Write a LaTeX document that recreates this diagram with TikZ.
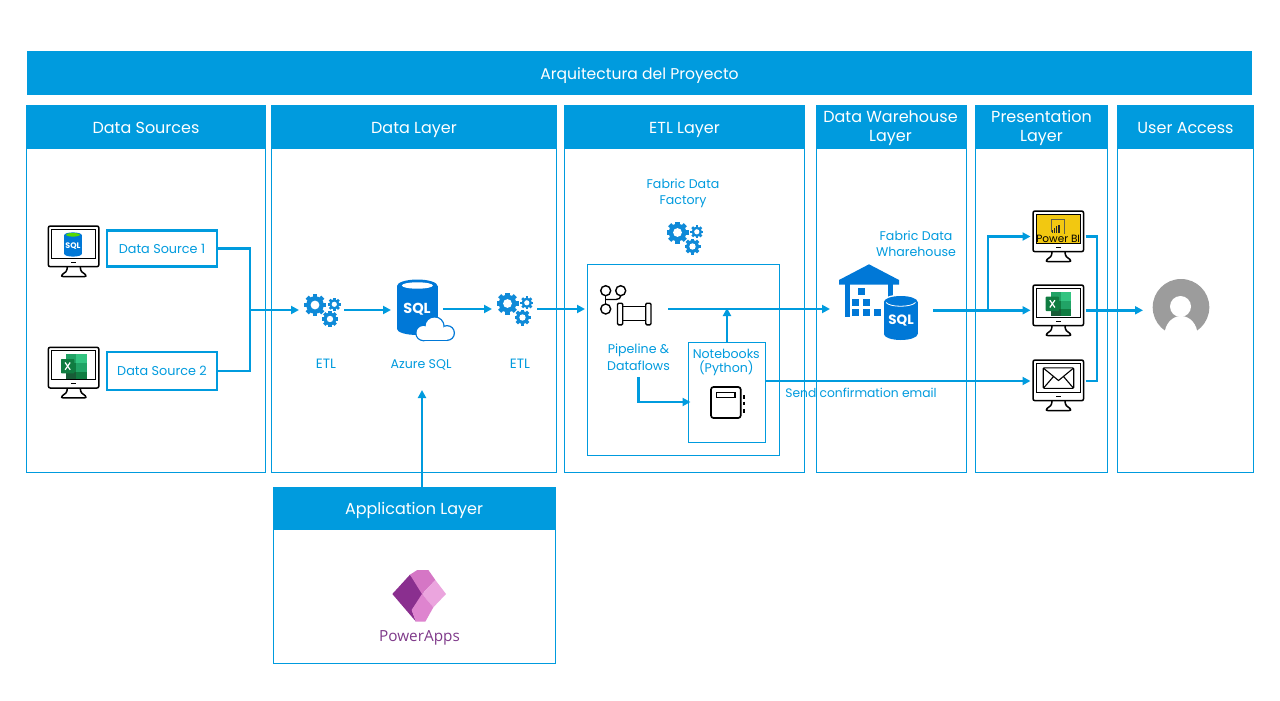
\documentclass[tikz,border=0pt]{standalone}
\usepackage{fontspec}
\setmainfont{Poppins}
\newfontfamily\appsfont{Open Sans}
\usetikzlibrary{arrows.meta}
\definecolor{mainblue}{HTML}{009BDE}
\definecolor{iconblue}{HTML}{0F8AD8}
\definecolor{sqlblue}{HTML}{0078D7}
\definecolor{xa}{HTML}{33C481}
\definecolor{xb}{HTML}{21A366}
\definecolor{xc}{HTML}{107C41}
\definecolor{xd}{HTML}{185C37}
\definecolor{paa}{HTML}{8A2F8F}
\definecolor{pab}{HTML}{D576C5}
\definecolor{pac}{HTML}{EBA5DE}
\definecolor{pad}{HTML}{DE84CF}
\definecolor{patext}{HTML}{7F3A8A}
\definecolor{pbiyellow}{HTML}{F2C811}
\newcommand\fs[1]{\fontsize{#1}{#1}\selectfont}
\newcommand\gearat[3]{%
  \foreach \a in {0,45,90,135}{\fill[iconblue,rotate around={\a:(#1,#2)}] ({#1-0.2*#3},{#2-#3}) rectangle ({#1+0.2*#3},{#2+#3});}
  \fill[iconblue] (#1,#2) circle[radius={0.8*#3*1pt}];
  \fill[white] (#1,#2) circle[radius={0.4*#3*1pt}];}
\tikzset{
  headbar/.style={anchor=north west,fill=mainblue,text=white,inner sep=0pt,outer sep=0pt,align=center,font=\fs{16}},
  headone/.style={headbar,text height=13pt,text depth=1pt},
  headtwo/.style={headbar,text height=32pt,text depth=0pt},
  panelbody/.style={anchor=north west,draw=mainblue,line width=.9pt,fill=white,inner sep=0pt,outer sep=0pt},
  label/.style={text=mainblue,align=center,inner sep=0pt,outer sep=0pt,font=\fs{12.6}},
  srcbox/.style={draw=mainblue,line width=2.4pt,fill=white,text=mainblue,inner sep=0pt,outer sep=0pt,minimum width=110pt,font=\fs{12.8}},
  iconbox/.style={inner sep=0pt,outer sep=0pt},
  flow/.style={draw=mainblue,line width=2.4pt,line join=miter},
  flowarrow/.style={flow,-{Triangle[length=8pt,width=8pt]}},
  monitorpic/.pic={
    \draw[black,line width=1.5pt,fill=white,line join=round] (19,41) .. controls (19,45) and (17,47) .. (14,48.5) .. controls (13,50) and (13,50.6) .. (15,50.6) -- (36,50.6) .. controls (38,50.6) and (38,50) .. (37,48.5) .. controls (34,47) and (32,45) .. (32,41);
    \draw[black,line width=1.5pt,fill=white,rounded corners=2pt] (0,0) rectangle (50.6,40.7);
    \draw[black,line width=1.3pt] (3.4,3.4) rectangle (47.2,32.3);
    \draw[black,line width=1.2pt] (23,36.5) -- (27.6,36.5);
  },
  excelpic/.pic={
    \fill[xb] (17.7,7) rectangle (28,15.6);
    \fill[xa] (28,7) rectangle (38.4,15.6);
    \fill[xc] (17.7,15.6) rectangle (28,24.2);
    \fill[xb] (28,15.6) rectangle (38.4,24.2);
    \fill[xd] (17.7,24.2) rectangle (38.4,31.2);
    \fill[xc] (28,24.2) rectangle (38.4,31.2);
    \fill[xc,rounded corners=.6pt] (12.7,11.7) rectangle (26,26);
    \draw[white,line width=1.2pt] (16.8,15.2) -- (21.9,22.5) (21.9,15.2) -- (16.8,22.5);
  },
  gearspic/.pic={
    \gearat{-7.5}{-5}{11}
    \gearat{11.8}{-5.7}{6.5}
    \gearat{7.5}{9}{8}
  }
}
\begin{document}
\begin{tikzpicture}[x=1pt,y=-1pt]
\useasboundingbox (0,0) rectangle (1280,701);
\fill[white] (0,0) rectangle (1280,701);

% title
\node[headone,font=\fs{15.6},minimum width=1225pt,minimum height=44pt] (title) at (27,51) {Arquitectura del Proyecto};

% panels
\node[panelbody,minimum width=239pt,minimum height=367pt] (srcbody) at (26,105) {};
\node[headone,minimum width=240pt,minimum height=44pt] (srchead) at (26,105) {Data Sources};
\node[panelbody,minimum width=285pt,minimum height=367pt] (databody) at (271.5,105) {};
\node[headone,minimum width=286pt,minimum height=44pt] (datahead) at (271,105) {Data Layer};
\node[panelbody,minimum width=240pt,minimum height=367pt] (etlbody) at (564.5,105) {};
\node[headone,minimum width=241pt,minimum height=44pt] (etlhead) at (564,105) {ETL Layer};
\node[panelbody,minimum width=150pt,minimum height=367pt] (dwbody) at (816,105) {};
\node[headbar,minimum width=151pt,minimum height=44pt] (dwhead) at (815.5,105) {};
\node[text=white,align=center,inner sep=0pt,font=\fs{16}] (dwheadtext) at (890.5,127.8) {Data Warehouse\\[3pt]Layer};
\node[panelbody,minimum width=132pt,minimum height=367pt] (presbody) at (975.5,105) {};
\node[headbar,minimum width=133pt,minimum height=44pt] (preshead) at (975,105) {};
\node[text=white,align=center,inner sep=0pt,font=\fs{16}] (presheadtext) at (1041.5,127.8) {Presentation\\[3pt]Layer};
\node[panelbody,minimum width=136pt,minimum height=367pt] (userbody) at (1117.5,105) {};
\node[headone,minimum width=137pt,minimum height=44pt] (userhead) at (1117,105) {User Access};
\node[panelbody,minimum width=282pt,minimum height=176pt] (appbody) at (273,487) {};
\node[headone,minimum width=283pt,minimum height=43pt] (apphead) at (272.5,487) {Application Layer};

% inner boxes
\node[panelbody,minimum width=192pt,minimum height=191pt] (factorybox) at (587,264) {};
\node[panelbody,minimum width=77pt,minimum height=100pt] (nb) at (688.5,342) {};

% data sources
\node[srcbox,minimum height=36pt] (ds1) at (162,248.5) {Data Source 1};
\node[srcbox,minimum height=38pt] (ds2) at (162,371) {Data Source 2};
\pic at (48.3,226) {monitorpic};
\fill[sqlblue] (64.3,235) rectangle (81.7,254);
\fill[sqlblue] (73,254) ellipse[x radius=8.7pt,y radius=2.6pt];
\fill[sqlblue] (73,235) ellipse[x radius=8.7pt,y radius=2.6pt];
\fill[green!60!yellow!85!black] (73,234.8) ellipse[x radius=6.8pt,y radius=1.8pt];
\node[text=white,inner sep=0pt,font=\fs{8}\bfseries] (sqlmini) at (73,246) {SQL};
\pic at (48.3,347.3) {monitorpic};
\pic at (48.3,347.3) {excelpic};

% ETL / SQL icons
\node[iconbox,minimum width=45pt,minimum height=34pt] (etl1) at (321.5,310) {};
\pic at (322.5,310) {gearspic};
\node[iconbox,minimum width=52pt,minimum height=60pt] (azure) at (417,310) {};
\fill[sqlblue] (397,286) rectangle (437.6,329);
\fill[sqlblue] (417.3,329) ellipse[x radius=20.3pt,y radius=6pt];
\fill[sqlblue] (417.3,286) ellipse[x radius=20.3pt,y radius=6.5pt];
\fill[white] (417.3,285.5) ellipse[x radius=15.5pt,y radius=3.2pt];
\node[text=white,inner sep=0pt,font=\fs{14.5}\bfseries] (azuresqltext) at (417,309) {SQL};
\foreach \c/\d in {sqlblue/0,white/1.3}{
  \fill[\c] (423.5,333) circle[radius={(8.3-\d)*1pt}];
  \fill[\c] (434.5,326.5) circle[radius={(10.2-\d)*1pt}];
  \fill[\c] (447,333) circle[radius={(8-\d)*1pt}];
  \fill[\c] (423.5,330) rectangle (447,{341.3-\d});
}
\node[iconbox,minimum width=45pt,minimum height=34pt] (etl2) at (514.5,309) {};
\pic at (515,308.5) {gearspic};
\node[label,font=\fs{13.5}] (etl1lbl) at (326,364) {ETL};
\node[label] (azurelbl) at (421,364.5) {Azure SQL};
\node[label,font=\fs{13.5}] (etl2lbl) at (520,364) {ETL};

% factory
\node[label] (factorylbl) at (683,193) {Fabric Data\\[3.2pt]Factory};
\node[iconbox,minimum width=36pt,minimum height=33pt] (factorygear) at (685,237.5) {};
\pic at (685,237.5) {gearspic};

% pipeline icon
\node[iconbox,minimum width=83pt,minimum height=40pt] (pipeline) at (626.5,309) {};
\begin{scope}[black,line width=1.4pt]
\draw (605.7,295.7) -- (605.7,304);
\draw (620.7,295.7) .. controls (620.7,298) and (619,299.5) .. (616,299.5) -- (605.7,299.5);
\draw (605.7,290.7) circle[radius=5pt];
\draw (620.7,290.7) circle[radius=5pt];
\draw (605.7,309) circle[radius=5pt];
\draw (622.7,306.7) -- (645.7,306.7) (622.7,320.7) -- (645.7,320.7);
\draw[rounded corners=1.2pt,fill=white] (617.5,303.2) rectangle (622.7,324.8);
\draw[rounded corners=1.2pt,fill=white] (645.7,303.2) rectangle (651,324.8);
\end{scope}
\node[label,minimum height=40pt] (pipelbl) at (638.5,357.3) {Pipeline \&\\[3.2pt]Dataflows};

% notebook
\node[label] (nblbl) at (726.3,362.3) {Notebooks\\[1.2pt](Python)};
\node[iconbox,minimum width=35pt,minimum height=33pt] (nbicon) at (727,402) {};
\begin{scope}[black,line width=1.7pt]
\draw[rounded corners=2.5pt] (711,387) rectangle (740.7,418);
\draw[line width=1.3pt] (716.7,392.7) rectangle (735,397.3);
\draw (744,395) -- (744,398.5) (744,401.5) -- (744,405) (744,409) -- (744,412.5);
\end{scope}
\node[label,font=\fs{12.3}] (maillbl) at (861,393) {Send confirmation email};

% warehouse
\node[iconbox,minimum width=103pt,minimum height=78pt] (dw) at (881.5,303) {};
\fill[sqlblue] (869,264.3) -- (899,280) -- (899,284.5) -- (839,284.5) -- (839,280) -- cycle;
\fill[sqlblue] (845,284) rectangle (850,316.7);
\fill[sqlblue] (887.7,284) rectangle (893,298);
\foreach \p/\q in {861.7/291.7,855.7/302.3,866.7/302.3,855.7/312.3,866.7/312.3,877.3/312.3}{
  \fill[sqlblue] ({\p-3.6},{\q-3.6}) rectangle ({\p+3.6},{\q+3.6});}
\fill[white] (900.8,302) ellipse[x radius=18.5pt,y radius=7.5pt];
\fill[white] (882.5,302) rectangle (919.2,334);
\fill[sqlblue] (884,302) rectangle (917.7,334);
\fill[sqlblue] (900.8,334) ellipse[x radius=16.9pt,y radius=6pt];
\fill[sqlblue] (900.8,302) ellipse[x radius=16.9pt,y radius=6pt];
\draw[white,line width=.8pt] (886,302.5) .. controls (890,307.5) and (911,307.5) .. (915.5,302.5);
\node[text=white,inner sep=0pt,font=\fs{13.5}\bfseries] (dwsql) at (901,321) {SQL};
\node[label] (dwlbl) at (916,243.7) {Fabric Data\\[3.2pt]Wharehouse};

% presentation monitors
\node[iconbox,minimum width=55pt,minimum height=51pt] (mon1) at (1058,236.5) {};
\node[iconbox,minimum width=55pt,minimum height=51pt] (mon2) at (1058,310.3) {};
\node[iconbox,minimum width=55pt,minimum height=51pt] (mon3) at (1058,385.5) {};
\pic at (1033,211) {monitorpic};
\fill[pbiyellow,draw=black,line width=1.3pt] (1036.4,214.4) rectangle (1080.2,243.3);
\draw[black!70!yellow,line width=.6pt] (1051,231.5) -- (1051,219.5) -- (1064,219.5) -- (1064,233.5);
\foreach \i/\h in {0/3,1/5,2/7,3/8}{\fill[black!85] ({1052+\i*2.1},233.3) rectangle ({1053.2+\i*2.1},{233.3-\h});}
\node[text=black,inner sep=0pt,font=\fs{10.5}] (pbi) at (1058.2,239) {Power BI};
\pic at (1033,285) {monitorpic};
\pic at (1033,285) {excelpic};
\pic at (1033,360) {monitorpic};
\draw[black,line width=1.1pt,rounded corners=1pt] (1043.2,367.8) rectangle (1073.7,388.3);
\draw[black,line width=1.1pt] (1043.6,368.3) -- (1058.5,380.5) -- (1073.3,368.3) (1043.6,388) -- (1053.5,376.5) (1073.3,388) -- (1063.5,376.5);

% user
\node[iconbox,minimum width=76pt,minimum height=57pt] (user) at (1181,307.5) {};
\fill[black!39] (1181,307.3) circle[radius=28.3pt];
\fill[white] (1181,335) ellipse[x radius=16.5pt,y radius=19pt];
\fill[white] (1164.5,335) rectangle (1197.5,340);
\fill[white] (1180.5,306.5) circle[radius=10.5pt];

% powerapps
\node[iconbox,minimum width=54pt,minimum height=53pt] (palogo) at (419,595) {};
\begin{scope}[shift={(360,560)},x=.3333pt,y=-.3333pt,line join=round]
\fill[paa] (97,102) -- (150,44) -- (195,100) -- (155,150) -- (168,185) -- cycle;
\fill[pab] (150,44) -- (172,30) -- (205,30) -- (226,60) -- (186,102) -- cycle;
\fill[pac] (226,60) -- (258,102) -- (220,142) -- (186,102) -- cycle;
\fill[pad] (186,102) -- (220,142) -- (196,185) -- (168,185) -- (155,150) -- cycle;
\end{scope}
\node[inner sep=0pt,text=patext,font=\appsfont\fs{15.3}] (palbl) at (419.5,638) {PowerApps};

% connectors
\coordinate (merge) at (250,310);
\coordinate (branch) at (988,310.3);
\coordinate (nbout) at (766,381);
\coordinate (nbin) at (690.5,402);
\coordinate (bracket) at (1097,310);
\coordinate (dwout) at (933,310.3);
\coordinate (azin) at (422,390);

\draw[flow] (ds1.east) -| (merge);
\draw[flow] (ds2.east) -| (merge);
\draw[flowarrow] (merge) -- (etl1.west);
\draw[flowarrow] (etl1.east) -- (azure.west);
\draw[flowarrow] (azure.east |- etl2.west) -- (etl2.west);
\draw[flowarrow] (etl2.east) -- (pipeline.west);
\draw[flowarrow] (pipeline.east) -- (dw.west |- pipeline.east);
\draw[flowarrow] (nb.north) -- ([yshift=1pt]nb.north |- pipeline.east);
\draw[flowarrow] (pipelbl.south) |- (nbin);
\draw[flowarrow] (nbout) -- (nbout -| mon3.west);
\draw[flowarrow] (dwout) -- (dwout -| mon2.west);
\draw[flowarrow] (branch) |- (mon1.west);
\draw[flow] (mon1.east) -| (bracket);
\draw[flow] (nbout -| mon3.east) -| (bracket);
\draw[flowarrow] (mon2.east) -- (mon2.east -| user.west);
\draw[flowarrow] (apphead.north -| azin) -- (azin);
\end{tikzpicture}
\end{document}
